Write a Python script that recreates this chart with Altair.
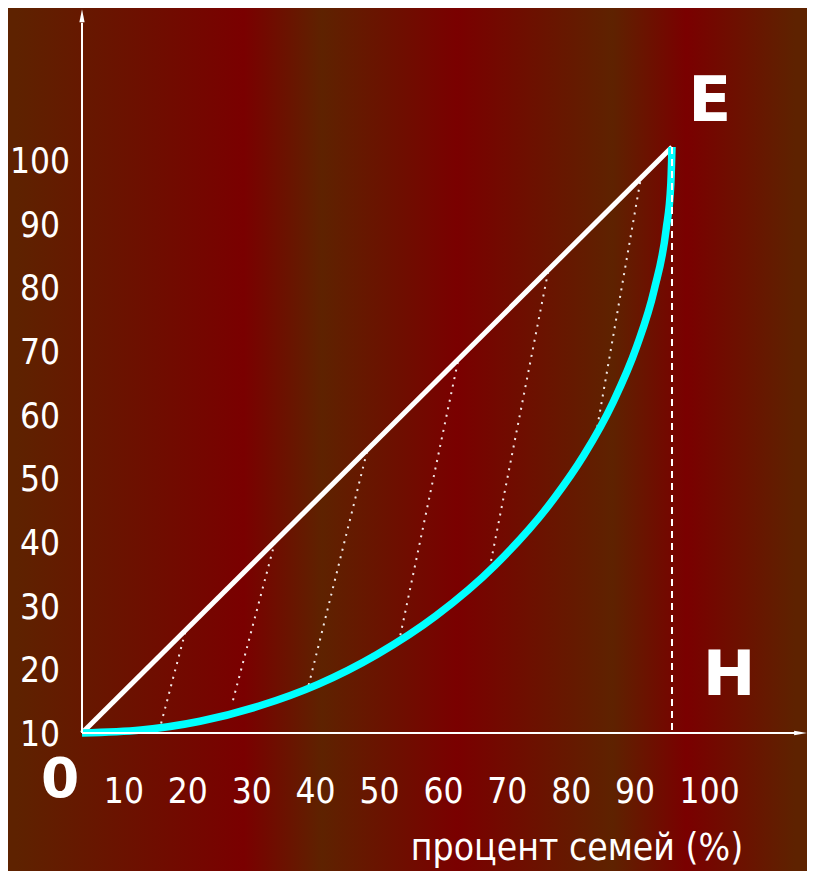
import altair as alt
import pandas as pd

# ---------------- data ----------------
# Lorenz curve (percent of families -> percent of income), in plot units where O=(0,0), E=(100,100)
curve_x = [0, 10, 20, 30, 40, 50, 60, 70, 80, 85, 90, 94, 97, 99, 99.8, 100]
curve_y = [0, 0.5, 2.0, 4.6, 8.3, 13.4, 20.0, 28.6, 40.0, 47.3, 56.4, 65.9, 75.7, 85.9, 93.7, 100]

# line of absolute equality O -> E
equal_x = [0, 100]
equal_y = [0, 100]

# dotted connectors: from the equality line down to the curve
dot_x1 = [17.5, 32.7, 48.3, 63.7, 79.0, 94.6]
dot_y1 = [17.2, 32.6, 48.0, 63.3, 78.7, 94.0]
dot_x2 = [13.2, 25.6, 38.3, 53.9, 69.2, 87.3]
dot_y2 = [0.85, 5.6, 7.7, 16.4, 28.7, 52.0]

# dashed line E -> H
dash_x = [100, 100]
dash_y = [100, 0]

# tick labels
x_tick_labels = [10, 20, 30, 40, 50, 60, 70, 80, 90, 100]
y_tick_labels = [10, 20, 30, 40, 50, 60, 70, 80, 90, 100]
x_title = "процент семей (%)"

# ---------------- layout ----------------
W, H = 799, 863
ORIGIN = (74.0, 725.0)     # pixel position of O inside the view
UNIT = (5.9, 5.86)         # pixels per plot unit
X_DOMAIN = [-ORIGIN[0] / UNIT[0], (W - ORIGIN[0]) / UNIT[0]]
Y_DOMAIN = [(ORIGIN[1] - H) / UNIT[1], ORIGIN[1] / UNIT[1]]

AXIS_X_END = 121.0     # x-axis arrow base
AXIS_Y_END = 121.2     # y-axis arrow base
ARROW_X = 121.8
ARROW_Y = 122.4

# label placement (plot units)
XL_A, XL_B, XL_LAST = 1.0831, -3.729, 1.8   # x-label position = A*L + B (+ extra for last)
XL_Y = -9.7
YL_K = 1.0865                               # y-label position = K*(L-10)
YL_X = -7.1

BROWN = "#5E2200"
RED = "#7A0000"

xs = alt.Scale(domain=X_DOMAIN, nice=False, zero=False)
ys = alt.Scale(domain=Y_DOMAIN, nice=False, zero=False)

def X(f):
    return alt.X(f, type="quantitative", scale=xs, axis=None)

def Y(f):
    return alt.Y(f, type="quantitative", scale=ys, axis=None)

# background gradient
bg = alt.Chart(pd.DataFrame({"a": [0]})).mark_rect(
    color=alt.Gradient(
        gradient="linear",
        x1=0, x2=1, y1=0, y2=0,
        stops=[
            alt.GradientStop(color=BROWN, offset=0.0),
            alt.GradientStop(color=BROWN, offset=0.01),
            alt.GradientStop(color=RED, offset=0.295),
            alt.GradientStop(color=BROWN, offset=0.393),
            alt.GradientStop(color=RED, offset=0.562),
            alt.GradientStop(color=BROWN, offset=0.757),
            alt.GradientStop(color=RED, offset=0.849),
            alt.GradientStop(color=BROWN, offset=0.985),
            alt.GradientStop(color=BROWN, offset=1.0),
        ],
    )
).encode(x=alt.value(0), x2=alt.value(W), y=alt.value(0), y2=alt.value(H))

dots_df = pd.DataFrame({"x1": dot_x1, "y1": dot_y1, "x2": dot_x2, "y2": dot_y2})
dotted = alt.Chart(dots_df).mark_rule(
    color="white", strokeWidth=2, strokeDash=[2, 5.7], opacity=0.9
).encode(x=X("x1"), y=Y("y1"), x2="x2", y2="y2")

diag = alt.Chart(pd.DataFrame({"x": equal_x, "y": equal_y})).mark_line(
    color="white", strokeWidth=5
).encode(x=X("x"), y=Y("y"))

curve = alt.Chart(pd.DataFrame({"x": curve_x, "y": curve_y, "o": range(len(curve_x))})).mark_line(
    color="#00FFFF", strokeWidth=7.5, interpolate="monotone", strokeCap="butt"
).encode(x=X("x"), y=Y("y"), order="o:Q")

dashed = alt.Chart(pd.DataFrame({"x": dash_x, "y": dash_y})).mark_line(
    color="white", strokeWidth=2, strokeDash=[7, 5]
).encode(x=X("x"), y=Y("y"))

axes_df = pd.DataFrame({"x1": [0, 0], "y1": [0, 0], "x2": [AXIS_X_END, 0], "y2": [0, AXIS_Y_END]})
axes = alt.Chart(axes_df).mark_rule(color="white", strokeWidth=2).encode(
    x=X("x1"), y=Y("y1"), x2="x2", y2="y2"
)

arrow_up = alt.Chart(pd.DataFrame({"x": [0], "y": [ARROW_Y]})).mark_point(
    shape="M0,-1L0.4,1L-0.4,1Z", filled=True, size=169, color="white", opacity=1, strokeWidth=0
).encode(x=X("x"), y=Y("y"))
arrow_right = alt.Chart(pd.DataFrame({"x": [ARROW_X], "y": [0]})).mark_point(
    shape="M1,0L-1,0.35L-1,-0.35Z", filled=True, size=169, color="white", opacity=1, strokeWidth=0
).encode(x=X("x"), y=Y("y"))

NARROW = "DejaVu Sans Condensed, Liberation Sans Narrow, sans-serif"

xl = alt.Chart(pd.DataFrame({"L": x_tick_labels})).transform_calculate(
    px=f"{XL_A}*datum.L + ({XL_B}) + (datum.L == 100 ? {XL_LAST} : 0)",
    py=f"{XL_Y}",
    t="''+datum.L",
).mark_text(font=NARROW, fontSize=35, color="white", align="center", baseline="alphabetic", dy=13).encode(
    x=X("px"), y=Y("py"), text="t:N"
)

yl = alt.Chart(pd.DataFrame({"L": y_tick_labels})).transform_calculate(
    px=f"{YL_X}",
    py=f"{YL_K}*(datum.L - 10)",
    t="''+datum.L",
).mark_text(font=NARROW, fontSize=35, color="white", align="center", baseline="alphabetic", dy=13).encode(
    x=X("px"), y=Y("py"), text="t:N"
)

letters_df = pd.DataFrame({
    "t": ["E", "H", "0"],
    "x": [106.4, 109.7, -3.7],
    "y": [108.0, 10.1, -7.6],
    "s": [63, 63, 55],
})
letters = alt.Chart(letters_df).mark_text(
    font="DejaVu Sans", fontWeight="bold", color="white",
    align="center", baseline="middle", dy=2
).encode(x=X("x"), y=Y("y"), text="t:N", size=alt.Size("s:Q", scale=None, legend=None))

title = alt.Chart(pd.DataFrame({"t": [x_title], "x": [83.9], "y": [(ORIGIN[1] - 852) / UNIT[1]]})).mark_text(
    font=NARROW, fontSize=37, color="white", align="center", baseline="alphabetic"
).encode(x=X("x"), y=Y("y"), text="t:N")

chart = alt.layer(
    bg, dotted, diag, curve, dashed, axes, arrow_up, arrow_right, xl, yl, letters, title
).properties(
    width=W, height=H, padding=0, autosize=alt.AutoSizeParams(type="none"), background=BROWN
).configure_view(stroke=None)

chart.save("out.html", embed_options={"renderer": "svg", "actions": False})
